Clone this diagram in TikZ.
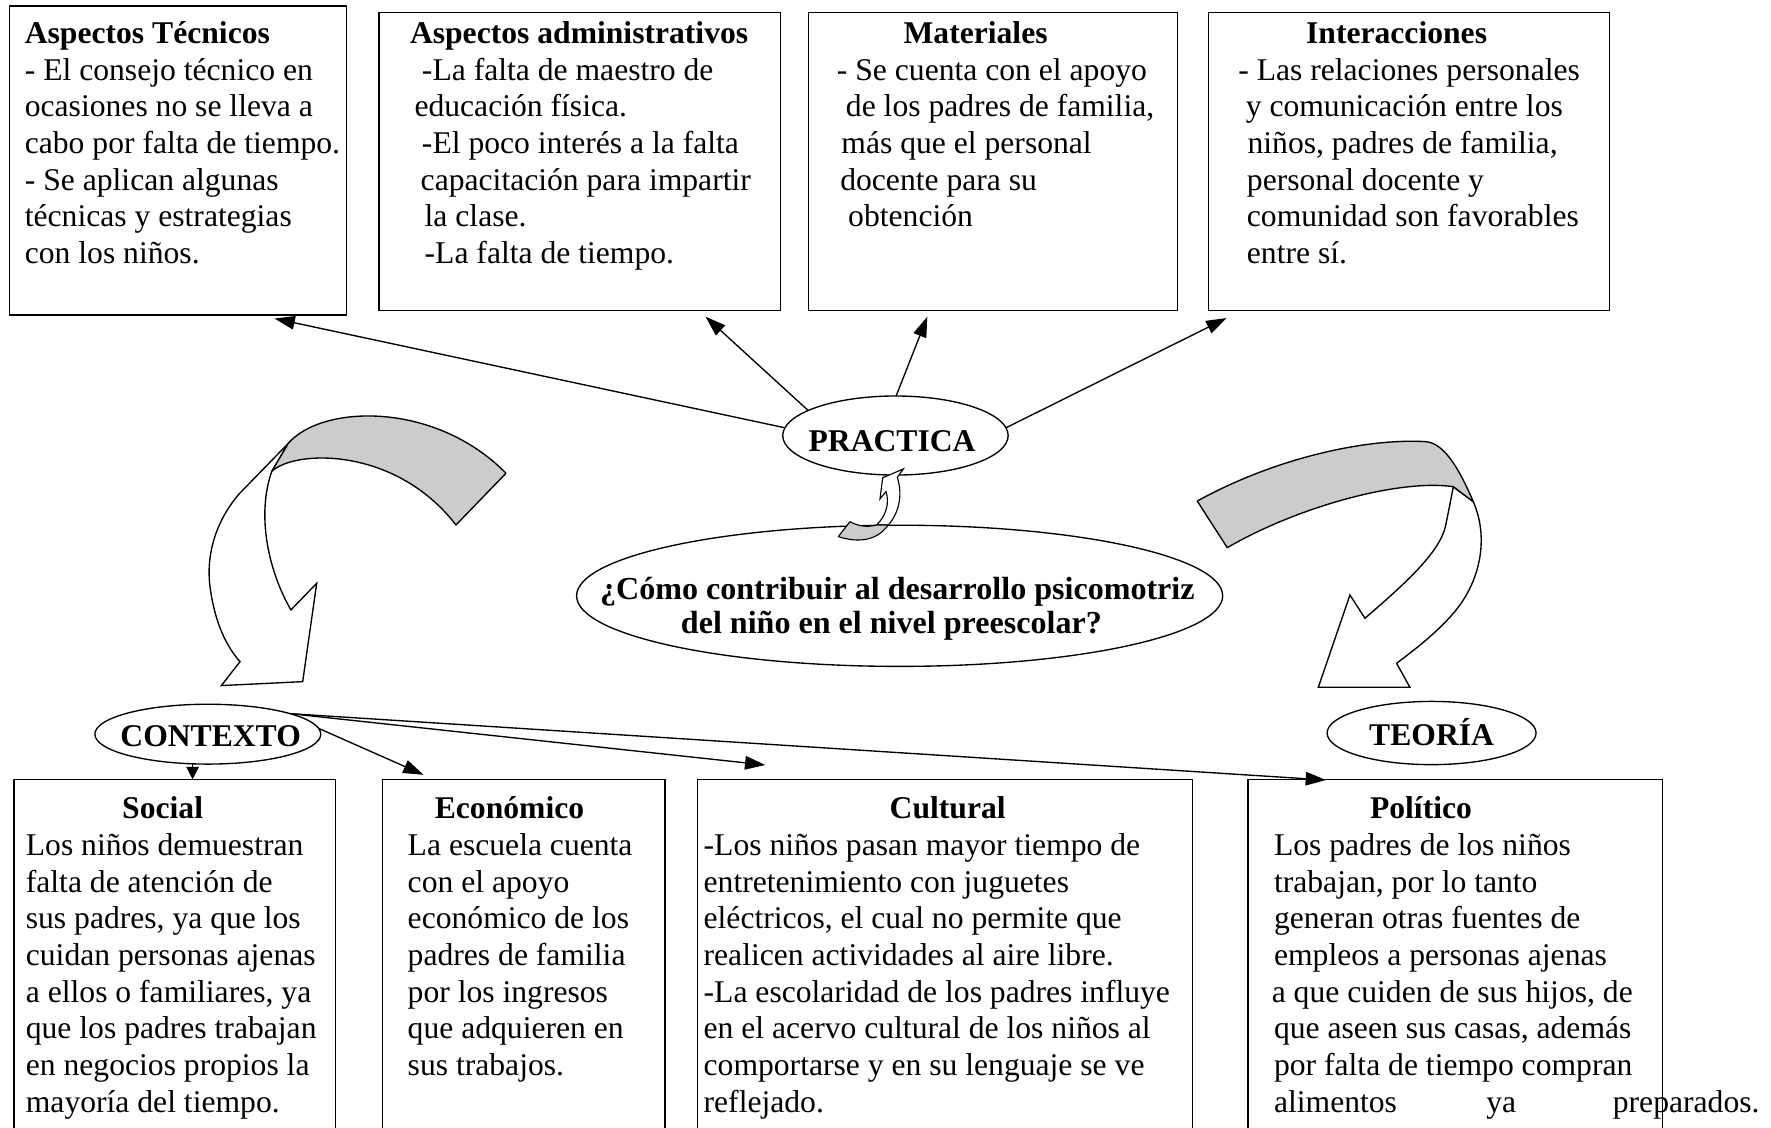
\documentclass[tikz,border=0pt]{standalone}
\usepackage{fontspec}
\setmainfont{Liberation Serif}
\usetikzlibrary{shapes.geometric,arrows.meta}
\pgfdeclarelayer{back}
\pgfdeclarelayer{bg}
\pgfsetlayers{back,bg,main}
\definecolor{bandgray}{RGB}{204,204,204}
\newcommand{\rowl}[2]{\hbox{\kern#1pt\relax#2}}
\begin{document}
\begin{tikzpicture}[x=1pt,y=-1pt,
  boxn/.style={draw, line width=1.2pt, inner sep=0pt, outer sep=0pt},
  txt/.style={inner sep=0pt, outer sep=0pt, anchor=base west, font=\fontsize{28}{32.45}\selectfont},
  ell/.style={ellipse, draw, fill=white, line width=1.2pt, inner sep=0pt, outer sep=0pt, text height=0pt, text depth=0pt, font=\bfseries\fontsize{28}{32}\selectfont},
  arr/.style={line width=1.2pt, -{Triangle[length=18pt,width=12pt]}},
  bandfill/.style={draw, line width=1.2pt, fill=bandgray, line join=round},
  arrowbody/.style={draw, line width=1.2pt, fill=white, line join=miter},
]
\useasboundingbox (0,0) rectangle (1568,998);
\begin{pgfonlayer}{back}
\fill[white] (0,0) rectangle (1568,998);
\end{pgfonlayer}
\clip (0,0) rectangle (1568,998);

% ---------- top boxes ----------
\node[boxn, minimum width=297.9pt, minimum height=273.7pt] (tec) at (157.55,142.15) {};
\node[boxn, minimum width=355.7pt, minimum height=263.8pt] (adm) at (513.35,143.1) {};
\node[boxn, minimum width=326.7pt, minimum height=263.8pt] (mat) at (879.35,143.1) {};
\node[boxn, minimum width=354.8pt, minimum height=263.8pt] (int) at (1247.4,143.1) {};

\node[txt] (tecT) at (22,38.5) {\vtop{%
 \rowl{0}{\bfseries Aspectos Técnicos}
 \rowl{0}{- El consejo técnico en}
 \rowl{0}{ocasiones no se lleva a}
 \rowl{0}{cabo por falta de tiempo.}
 \rowl{0}{- Se aplican algunas}
 \rowl{0}{técnicas y estrategias}
 \rowl{0}{con los niños.}}};

\node[txt] (admT) at (363,38.5) {\vtop{%
 \rowl{0}{\bfseries Aspectos administrativos}
 \rowl{10.6}{-La falta de maestro de}
 \rowl{4}{educación física.}
 \rowl{10.6}{-El poco interés a la falta}
 \rowl{9.5}{capacitación para impartir}
 \rowl{13}{la clase.}
 \rowl{13}{-La falta de tiempo.}}};

\node[txt] (matT) at (741,38.5) {\vtop{%
 \rowl{59}{\bfseries Materiales}
 \rowl{0}{- Se cuenta con el apoyo}
 \rowl{8}{de los padres de familia,}
 \rowl{4}{más que el personal}
 \rowl{3}{docente para su}
 \rowl{10}{obtención}}};

\node[txt] (intT) at (1096.4,38.5) {\vtop{%
 \rowl{60}{\bfseries Interacciones}
 \rowl{0}{- Las relaciones personales}
 \rowl{6.6}{y comunicación entre los}
 \rowl{8.2}{niños, padres de familia,}
 \rowl{7.6}{personal docente y}
 \rowl{7.6}{comunidad son favorables}
 \rowl{7.6}{entre sí.}}};

% ---------- bottom boxes ----------
\node[boxn, minimum width=284.8pt, minimum height=320pt] (soc) at (154.9,850) {};
\node[boxn, minimum width=250.3pt, minimum height=320pt] (eco) at (463.65,850) {};
\node[boxn, minimum width=438.3pt, minimum height=320pt] (cul) at (836.85,850) {};
\node[boxn, minimum width=367pt, minimum height=320pt] (pol) at (1288.5,850) {};

\node[txt] (socT) at (22.9,725) {\vtop{%
 \rowl{85.3}{\bfseries Social}
 \rowl{0}{Los niños demuestran}
 \rowl{0}{falta de atención de}
 \rowl{0}{sus padres, ya que los}
 \rowl{0}{cuidan personas ajenas}
 \rowl{0}{a ellos o familiares, ya}
 \rowl{0}{que los padres trabajan}
 \rowl{0}{en negocios propios la}
 \rowl{0}{mayoría del tiempo.}}};

\node[txt] (ecoT) at (361,725) {\vtop{%
 \rowl{24}{\bfseries Económico}
 \rowl{0}{La escuela cuenta}
 \rowl{0}{con el apoyo}
 \rowl{0}{económico de los}
 \rowl{0}{padres de familia}
 \rowl{0}{por los ingresos}
 \rowl{0}{que adquieren en}
 \rowl{0}{sus trabajos.}}};

\node[txt] (culT) at (623,725) {\vtop{%
 \rowl{164.7}{\bfseries Cultural}
 \rowl{0}{-Los niños pasan mayor tiempo de}
 \rowl{0}{entretenimiento con juguetes}
 \rowl{0}{eléctricos, el cual no permite que}
 \rowl{0}{realicen actividades al aire libre.}
 \rowl{0}{-La escolaridad de los padres influye}
 \rowl{0}{en el acervo cultural de los niños al}
 \rowl{0}{comportarse y en su lenguaje se ve}
 \rowl{0}{reflejado.}}};

\node[txt] (polT) at (1128,725) {\vtop{%
 \rowl{85}{\bfseries Político}
 \rowl{0}{Los padres de los niños}
 \rowl{0}{trabajan, por lo tanto}
 \rowl{0}{generan otras fuentes de}
 \rowl{0}{empleos a personas ajenas}
 \rowl{-2}{a que cuiden de sus hijos, de}
 \rowl{0}{que aseen sus casas, además}
 \rowl{0}{por falta de tiempo compran}
 \hbox{\rlap{alimentos}\kern188pt\rlap{ya}\kern112pt preparados.}}};

% ---------- ellipses ----------
\node[ell, minimum width=199.6pt, minimum height=70pt] (prac) at (792.8,385.6)
  {\makebox[0pt]{\kern-6pt\raisebox{-14.3pt}{PRACTICA}}};
\node[ell, minimum width=200pt, minimum height=53pt] (ctx) at (184,650)
  {\makebox[0pt]{\kern5pt\raisebox{-10.5pt}{CONTEXTO}}};
\node[ell, minimum width=185pt, minimum height=56pt] (teo) at (1267.5,649)
  {\makebox[0pt]{\raisebox{-11pt}{TEORÍA}}};
\node[ell, minimum width=572pt, minimum height=125pt, font=\bfseries\fontsize{28.4}{30}\selectfont] (q) at (796.5,527.5)
  {\raisebox{-3.5pt}{\vtop{\hbox to 0pt{\hss\kern-4pt ¿Cómo contribuir al desarrollo psicomotriz\hss}\hbox to 0pt{\hss\kern-14.6pt del niño en el nivel preescolar?\hss}}}};

% ---------- connectors ----------
\begin{pgfonlayer}{bg}
\coordinate (tTec) at (243,282);
\coordinate (tAdm) at (624.7,280.4);
\coordinate (tMat) at (821,280.4);
\coordinate (tInt) at (1086,281.6);
\coordinate (tSoc) at (170.5,690);
\coordinate (tEco) at (375,686);
\coordinate (tCul) at (677.6,677.3);
\coordinate (tPol) at (1174,690.6);
\draw[arr] (prac.176) -- (tTec);
\draw[arr] (prac.164) -- (tAdm);
\draw[arr] (prac.89) -- (tMat);
\draw[arr] (prac.4) -- (tInt);
\draw[line width=1.2pt, -{Triangle[length=11pt,width=11pt]}] (ctx.center -| tSoc) -- (tSoc);
\draw[arr] (ctx.3) -- (tEco);
\draw[arr] (ctx.14) -- (tCul);
\draw[arr] (ctx.14) -- (tPol);
\end{pgfonlayer}

% ---------- left big curved arrow ----------
\draw[arrowbody] (255.3,392.5) -- (212,437) .. controls (192,460) and (182,490) .. (186,520)
  .. controls (190,550) and (200,572) .. (212.5,585.8) -- (196,607) -- (268,603.5) -- (280.4,516.4)
  -- (257.6,540) .. controls (240,510) and (226,460) .. (240.5,417.6) -- cycle;
\draw[bandfill] (255.3,392.5) .. controls (285,358) and (385,355) .. (448,419) -- (403.7,464.8)
  .. controls (350,395) and (260,398) .. (240.5,417.6) -- cycle;

% ---------- right big curved arrow ----------
\draw[arrowbody] (1304.4,444.2) .. controls (1318,475) and (1312,515) .. (1285,545)
  .. controls (1270,562) and (1250,577) .. (1236.5,587.3) -- (1248.3,608.5) -- (1167.2,608.5)
  -- (1195.2,526.8) -- (1208.5,547.4) .. controls (1240,520) and (1275,490) .. (1280,465)
  .. controls (1283,450) and (1285,440) .. (1286.7,430.9) -- cycle;
\draw[bandfill] (1060,443.6) .. controls (1130,405) and (1210,388) .. (1262,391)
  .. controls (1280,392) and (1294,420) .. (1304.4,444.2) -- (1286.7,430.9)
  .. controls (1240,424) and (1150,448) .. (1086.6,484.9) -- cycle;

% ---------- small curly arrow ----------
\draw[arrowbody, line width=1pt] (799.8,415.2) -- (794.4,422.6) .. controls (799,436) and (797,453) .. (786.5,464.8)
  -- (776.2,464.8) .. controls (784,457) and (788,446) .. (784.4,435.3) -- (779.1,441.8) -- (781.5,423) -- cycle;
\draw[bandfill, line width=1pt] (786.5,464.8) .. controls (782,471) and (770,484) .. (742.2,475.1)
  -- (752.5,461.9) .. controls (760,466) and (768,467) .. (776.2,464.8) -- cycle;
\end{tikzpicture}
\end{document}
